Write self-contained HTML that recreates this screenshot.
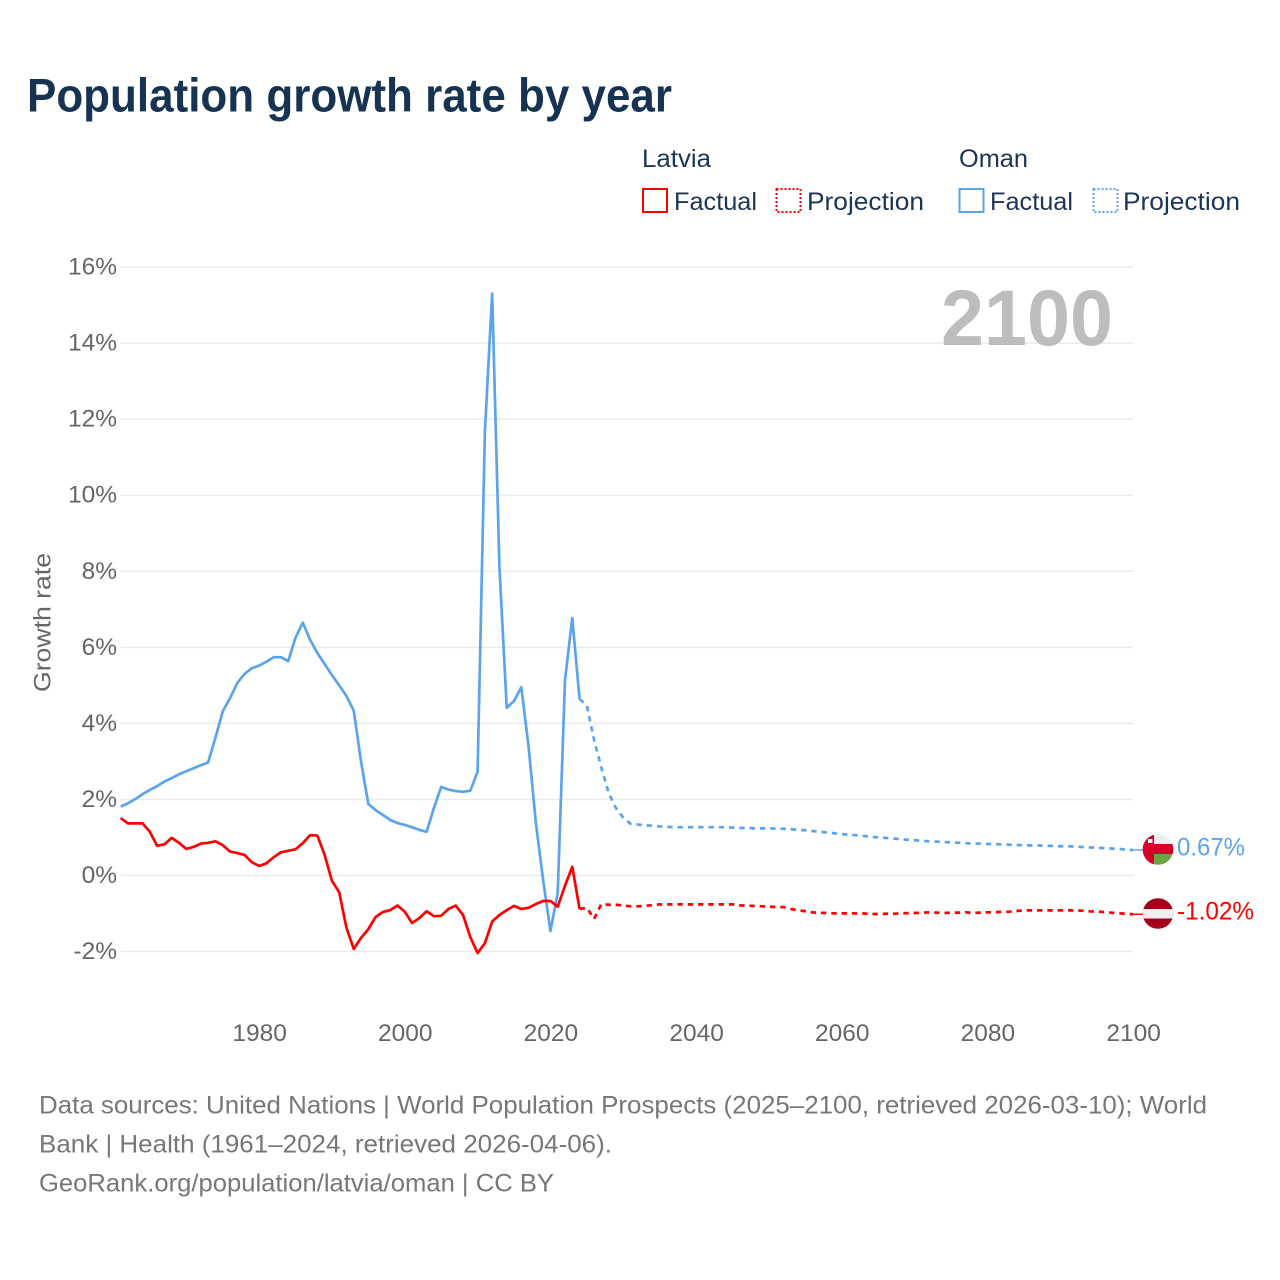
<!DOCTYPE html>
<html lang="en">
<head>
<meta charset="utf-8">
<title>Population growth rate by year</title>
<style>
html,body{margin:0;padding:0;background:#fff;}
svg{display:block;}
text{font-family:"Liberation Sans",sans-serif;}
</style>
</head>
<body>
<svg id="chart" xmlns="http://www.w3.org/2000/svg" width="1280" height="1280" viewBox="0 0 1280 1280">
  <text x="27" y="111.5" font-size="47" font-weight="700" fill="#163352" textLength="645" lengthAdjust="spacingAndGlyphs">Population growth rate by year</text>

  <g font-size="25" fill="#1a3557">
    <text x="642" y="167" textLength="69" lengthAdjust="spacingAndGlyphs">Latvia</text>
    <rect x="643" y="189" width="24" height="23" fill="none" stroke="#ff0000" stroke-width="2"/>
    <text x="674" y="210" textLength="83" lengthAdjust="spacingAndGlyphs">Factual</text>
    <rect x="776.5" y="189" width="24" height="23" fill="none" stroke="#ff0000" stroke-width="2" stroke-dasharray="2 2"/>
    <text x="807" y="210" textLength="117" lengthAdjust="spacingAndGlyphs">Projection</text>
    <text x="959" y="167" textLength="69" lengthAdjust="spacingAndGlyphs">Oman</text>
    <rect x="959.5" y="189" width="24" height="23" fill="none" stroke="#5ba4ec" stroke-width="2"/>
    <text x="990" y="210" textLength="83" lengthAdjust="spacingAndGlyphs">Factual</text>
    <rect x="1093.5" y="189" width="24" height="23" fill="none" stroke="#5ba4ec" stroke-width="2" stroke-dasharray="2 2"/>
    <text x="1123" y="210" textLength="117" lengthAdjust="spacingAndGlyphs">Projection</text>
  </g>

  <g id="grid"></g>
  <g id="yticks" font-size="24.5" fill="#666"></g>
  <g id="xticks" font-size="24.5" fill="#666"></g>

  <text transform="translate(50.5,622.5) rotate(-90)" text-anchor="middle" font-size="24.5" fill="#666" textLength="139" lengthAdjust="spacingAndGlyphs">Growth rate</text>

  <text x="941" y="345" font-size="79" font-weight="700" fill="#bdbdbd" textLength="172" lengthAdjust="spacingAndGlyphs">2100</text>

  <g id="series"></g>

  <g>
    <clipPath id="clip-oman"><circle cx="1158" cy="849.5" r="15.3"/></clipPath>
    <g clip-path="url(#clip-oman)">
      <rect x="1142" y="833" width="32" height="34" fill="#eeeeee"/>
      <rect x="1142" y="854" width="32" height="13" fill="#6da544"/>
      <rect x="1142" y="844" width="32" height="10" fill="#d80027"/>
      <rect x="1142" y="833" width="12" height="34" fill="#d80027"/>
      <rect x="1148" y="839" width="4.5" height="4" fill="#eeeeee"/>
    </g>
  </g>
  <g>
    <clipPath id="clip-latvia"><circle cx="1158" cy="913.5" r="15.3"/></clipPath>
    <g clip-path="url(#clip-latvia)">
      <rect x="1142" y="897" width="32" height="34" fill="#a2001d"/>
      <rect x="1142" y="909" width="32" height="9.5" fill="#eeeeee"/>
    </g>
  </g>

  <text x="1177" y="855.5" font-size="25" fill="#5ba4ec" textLength="68" lengthAdjust="spacingAndGlyphs">0.67%</text>
  <text x="1177" y="919.5" font-size="25" fill="#ff0000" textLength="77" lengthAdjust="spacingAndGlyphs">-1.02%</text>

  <g font-size="25" fill="#777">
    <text x="39" y="1113.5" textLength="1168" lengthAdjust="spacingAndGlyphs">Data sources: United Nations | World Population Prospects (2025–2100, retrieved 2026-03-10); World</text>
    <text x="39" y="1152.5" textLength="573" lengthAdjust="spacingAndGlyphs">Bank | Health (1961–2024, retrieved 2026-04-06).</text>
    <text x="39" y="1191.5" textLength="515" lengthAdjust="spacingAndGlyphs">GeoRank.org/population/latvia/oman | CC BY</text>
  </g>
</svg>

<script>
const yTickValues = [16, 14, 12, 10, 8, 6, 4, 2, 0, -2];
const xTickYears = [1980, 2000, 2020, 2040, 2060, 2080, 2100];

const factualStartYear = 1961;
const projectionStartYear = 2024;

const latviaFactual = [1.51,1.37,1.37,1.37,1.15,0.78,0.82,0.99,0.86,0.70,0.75,0.84,0.86,0.90,0.80,0.63,0.59,0.54,0.35,0.25,
  0.32,0.48,0.61,0.65,0.69,0.85,1.06,1.05,0.54,-0.14,-0.44,-1.38,-1.93,-1.64,-1.41,-1.09,-0.96,-0.91,-0.79,-0.95,
  -1.25,-1.12,-0.94,-1.07,-1.06,-0.88,-0.79,-1.04,-1.62,-2.04,-1.78,-1.21,-1.04,-0.91,-0.80,-0.88,-0.85,-0.75,-0.67,-0.67,
  -0.82,-0.27,0.23,-0.88];

const latviaProjection = [-0.88,-0.85,-1.14,-0.75,-0.77,-0.77,-0.79,-0.81,-0.81,-0.80,-0.78,-0.76,-0.76,-0.76,-0.76,-0.76,-0.76,-0.76,-0.76,-0.76,-0.76,
  -0.76,-0.785,-0.79,-0.80,-0.81,-0.82,-0.83,-0.83,-0.88,-0.915,-0.94,-0.97,-0.98,-0.985,-0.995,-0.995,-0.995,-0.995,-1.00,-1.012,
  -1.012,-1.004,-1.008,-0.995,-0.99,-0.986,-0.977,-0.968,-0.977,-0.986,-0.977,-0.977,-0.968,-0.986,-0.977,-0.968,-0.96,-0.96,-0.951,-0.933,
  -0.916,-0.916,-0.916,-0.916,-0.916,-0.916,-0.916,-0.916,-0.925,-0.942,-0.951,-0.96,-0.977,-0.995,-1.004,-1.02];

const omanFactual = [1.81,1.90,2.01,2.14,2.25,2.35,2.47,2.56,2.66,2.74,2.82,2.90,2.97,3.62,4.31,4.66,5.06,5.30,5.45,5.52,
  5.62,5.74,5.74,5.64,6.25,6.65,6.20,5.85,5.56,5.27,5.00,4.72,4.33,2.99,1.88,1.72,1.59,1.46,1.38,1.33,
  1.27,1.20,1.15,1.77,2.33,2.26,2.22,2.20,2.23,2.73,11.66,15.30,8.10,4.41,4.59,4.95,3.39,1.38,-0.12,-1.46,
  -0.46,5.14,6.77,4.64];

const omanProjection = [4.64,4.47,3.56,2.83,2.17,1.77,1.52,1.36,1.34,1.32,1.31,1.29,1.28,1.27,1.27,1.27,1.27,1.27,1.27,1.27,1.27,
  1.26,1.25,1.25,1.24,1.24,1.24,1.23,1.23,1.22,1.20,1.19,1.17,1.15,1.13,1.11,1.09,1.07,1.06,1.04,1.02,
  1.00,0.99,0.97,0.96,0.94,0.93,0.91,0.90,0.89,0.88,0.87,0.86,0.85,0.84,0.84,0.83,0.82,0.82,0.81,0.80,
  0.80,0.79,0.79,0.78,0.78,0.77,0.77,0.76,0.75,0.74,0.73,0.72,0.71,0.70,0.68,0.67];

const SVG_NS = 'http://www.w3.org/2000/svg';
function xScale(year) { return 120.7 + (year - 1961) * 7.2835; }
function yScale(pct) { return 875.5 - pct * 38.03; }

const gridGroup = document.getElementById('grid');
const yTickGroup = document.getElementById('yticks');
const xTickGroup = document.getElementById('xticks');
const seriesGroup = document.getElementById('series');

yTickValues.forEach(function (v) {
  const line = document.createElementNS(SVG_NS, 'line');
  
  
  line.setAttribute('x1', xScale(1961));
  line.setAttribute('x2', xScale(2100));
  line.setAttribute('y1', yScale(v));
  line.setAttribute('y2', yScale(v));
  line.setAttribute('stroke', '#ebebeb');
  line.setAttribute('stroke-width', '1.5');
  gridGroup.appendChild(line);

  const label = document.createElementNS(SVG_NS, 'text');
  
  
  label.setAttribute('x', 117);
  label.setAttribute('y', yScale(v) + 7.5);
  label.setAttribute('text-anchor', 'end');
  label.textContent = v + '%';
  yTickGroup.appendChild(label);
});

xTickYears.forEach(function (year) {
  const label = document.createElementNS(SVG_NS, 'text');
  
  
  label.setAttribute('x', xScale(year) + 0.5);
  label.setAttribute('y', 1041);
  label.setAttribute('text-anchor', 'middle');
  label.textContent = String(year);
  xTickGroup.appendChild(label);
});

function pathFor(values, startYear) {
  return values.map(function (v, i) {
    return (i ? 'L' : 'M') + xScale(startYear + i).toFixed(2) + ' ' + yScale(v).toFixed(2);
  }).join(' ');
}

function drawLine(values, startYear, color, dashed, name) {
  const p = document.createElementNS(SVG_NS, 'path');
  
  
  p.setAttribute('d', pathFor(values, startYear));
  p.setAttribute('fill', 'none');
  p.setAttribute('stroke', color);
  p.setAttribute('stroke-width', '2.7');
  p.setAttribute('stroke-linejoin', 'round');
  if (dashed) p.setAttribute('stroke-dasharray', '5.4 4.9');
  seriesGroup.appendChild(p);
}

function drawLeader(values, color, name) {
  const last = values[values.length - 1];
  const l = document.createElementNS(SVG_NS, 'line');
  
  
  l.setAttribute('x1', xScale(2100));
  l.setAttribute('x2', 1145);
  l.setAttribute('y1', yScale(last));
  l.setAttribute('y2', yScale(last));
  l.setAttribute('stroke', color);
  l.setAttribute('stroke-width', '1.4');
  seriesGroup.appendChild(l);
}

drawLine(omanFactual, factualStartYear, '#5ba4ec', false, 'line-oman-factual');
drawLine(omanProjection, projectionStartYear, '#5ba4ec', true, 'line-oman-projection');
drawLine(latviaFactual, factualStartYear, '#ff0000', false, 'line-latvia-factual');
drawLine(latviaProjection, projectionStartYear, '#ff0000', true, 'line-latvia-projection');
drawLeader(omanProjection, '#5ba4ec', 'leader-oman');
drawLeader(latviaProjection, '#ff0000', 'leader-latvia');
</script>
</body>
</html>
